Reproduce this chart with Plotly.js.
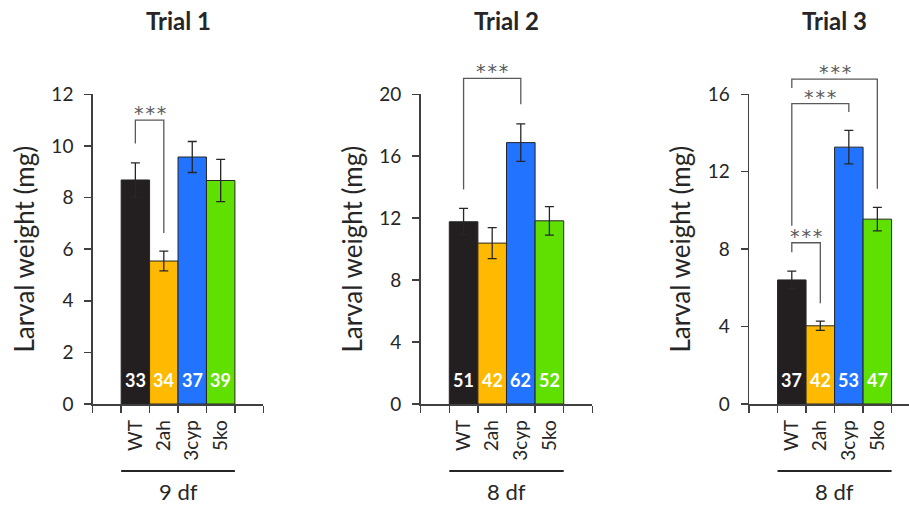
<!DOCTYPE html>
<html><head><meta charset="utf-8">
<script src="https://cdn.plot.ly/plotly-3.0.1.min.js"></script>
<style>html,body{margin:0;padding:0;background:#fff}#chart{width:909px;height:508px}</style>
</head><body><div id="chart"></div>
<script>
// ---------- data ----------
const groups = ['WT', '2ah', '3cyp', '5ko'];
const barColors = ['#231f20', '#ffb900', '#2273ff', '#5fe000'];
const trialTitles = ['Trial 1', 'Trial 2', 'Trial 3'];
const dfLabels = ['9 df', '8 df', '8 df'];
const yTitle = 'Larval weight (mg)';

const mean1 = [8.68, 5.54, 9.57, 8.66];
const err1  = [0.66, 0.38, 0.60, 0.82];
const n1    = [33, 34, 37, 39];

const mean2 = [11.77, 10.39, 16.88, 11.83];
const err2  = [0.86, 1.00, 1.21, 0.92];
const n2    = [51, 42, 62, 52];

const mean3 = [6.41, 4.04, 13.27, 9.55];
const err3  = [0.45, 0.24, 0.87, 0.61];
const n3    = [37, 42, 53, 47];

const yMax  = [12, 20, 16];
const yStep = [2, 4, 4];

// significance brackets: from group, to group, y: [left leg end, top, top, right leg end]
const sig1 = [{from: 'WT', to: '2ah', y: [10.09, 11.0, 11.0, 6.63], label: '***'}];
const sig2 = [{from: 'WT', to: '3cyp', y: [13.85, 21.03, 21.03, 19.35], label: '***'}];
const sig3 = [
  {from: 'WT', to: '2ah',  y: [7.84, 8.33, 8.33, 5.21],     label: '***'},
  {from: 'WT', to: '3cyp', y: [9.21, 15.52, 15.52, 15.09],  label: '***'},
  {from: 'WT', to: '5ko',  y: [16.33, 16.78, 16.78, 11.12], label: '***'}
];

// ---------- styling ----------
const FONT = 'Lato, "Open Sans", sans-serif';
const STARFONT = '"DejaVu Sans", sans-serif';
const TXT = '#262626';
const AX = '#404040';
const yDom = [0.2047, 0.8144];
const xDoms = [[0.1020, 0.2897], [0.4628, 0.6516], [0.8240, 1.0]];
const xRanges = [[-1.5, 4.5], [-1.5, 4.5], [-1.5, 4.11]];

const trials = [
  {mean: mean1, err: err1, n: n1, sig: sig1},
  {mean: mean2, err: err2, n: n2, sig: sig2},
  {mean: mean3, err: err3, n: n3, sig: sig3}
];

const idx = g => groups.indexOf(g);
const traces = [];
const annotations = [];
const shapes = [];
const layout = {
  width: 909, height: 508,
  margin: {l: 0, r: 0, t: 0, b: 0},
  paper_bgcolor: '#fff', plot_bgcolor: 'rgba(0,0,0,0)',
  showlegend: false, bargap: 0,
  font: {family: FONT, color: TXT},
  annotations: annotations, shapes: shapes
};

trials.forEach((t, k) => {
  const s = k === 0 ? '' : String(k + 1);
  const xa = 'x' + s, ya = 'y' + s;
  const yb = 'y' + (k + 4);   // taller hidden axis (same units) for the brackets
  traces.push({
    type: 'bar', xaxis: xa, yaxis: ya,
    x: groups.map((g, i) => i), y: t.mean,
    width: 1,
    marker: {color: barColors, line: {color: TXT, width: 1}},
    error_y: {type: 'data', array: t.err, visible: true, color: TXT, thickness: 1.3, width: 4.5},
    hoverinfo: 'skip'
  });
  t.sig.forEach(b => {
    const a = idx(b.from), c = idx(b.to);
    traces.push({
      type: 'scatter', mode: 'lines', xaxis: xa, yaxis: yb,
      x: [a, a, c, c], y: b.y,
      line: {color: '#595959', width: 1.3}, hoverinfo: 'skip'
    });
    annotations.push({
      xref: xa, yref: yb, x: (a + c) / 2, y: b.y[1],
      text: b.label.split('').join('\u200A'),
      showarrow: false, yanchor: 'bottom', yshift: -6,
      font: {family: STARFONT, size: 19, color: '#595959'}
    });
  });
  t.n.forEach((v, i) => {
    annotations.push({
      xref: xa, yref: ya + ' domain', x: i, y: 0.077, text: '<b>' + v + '</b>',
      showarrow: false, yanchor: 'middle',
      font: {family: FONT, size: 18, color: '#ffffff'}
    });
  });
  annotations.push({
    xref: xa, yref: 'paper', x: (groups.length - 1) / 2, y: 0.9606,
    text: '<b>' + trialTitles[k] + '</b>', showarrow: false, yanchor: 'middle',
    font: {family: FONT, size: 24, color: TXT}
  });
  annotations.push({
    xref: xa, yref: 'paper', x: (groups.length - 1) / 2, y: 0.032,
    text: dfLabels[k], showarrow: false, yanchor: 'middle',
    font: {family: FONT, size: 22, color: TXT}
  });
  shapes.push({
    type: 'line', xref: xa, yref: 'paper', x0: -0.5, x1: groups.length - 0.5,
    y0: 0.0728, y1: 0.0728, line: {color: TXT, width: 2}
  });
  layout['xaxis' + s] = {
    domain: xDoms[k], range: xRanges[k], anchor: ya, type: 'linear',
    showline: true, linecolor: AX, linewidth: 1.5, zeroline: false, showgrid: false,
    tickmode: 'array', tickvals: groups.map((g, i) => i), ticktext: groups,
    ticks: '', tickangle: -90, ticklabelstandoff: 7,
    tickfont: {family: FONT, size: 19, color: TXT},
    minor: {tickmode: 'linear', tick0: 0.5, dtick: 1, ticks: 'outside', ticklen: 7, tickcolor: AX, tickwidth: 1.5, showgrid: false},
    fixedrange: true
  };
  layout['yaxis' + s] = {
    domain: yDom, anchor: xa, range: [0, yMax[k]], tickmode: 'linear', tick0: 0, dtick: yStep[k],
    showline: true, linecolor: AX, linewidth: 1.5, zeroline: false, showgrid: false,
    ticks: 'outside', ticklen: 7, tickcolor: AX, tickwidth: 1.5, ticklabelstandoff: 7,
    tickfont: {family: FONT, size: 19, color: TXT},
    title: {text: yTitle, font: {family: FONT, size: 26, color: TXT}, standoff: 9},
    automargin: false, fixedrange: true
  };
  // same data units as the visible y axis, but extending to the top of the page
  const tallTop = yMax[k] * (1 - yDom[0]) / (yDom[1] - yDom[0]);
  layout['yaxis' + (k + 4)] = {
    domain: [yDom[0], 1], anchor: xa, range: [0, tallTop],
    visible: false, showgrid: false, zeroline: false, fixedrange: true
  };
});

Plotly.newPlot('chart', traces, layout, {staticPlot: true, displayModeBar: false});
</script>
</body></html>
